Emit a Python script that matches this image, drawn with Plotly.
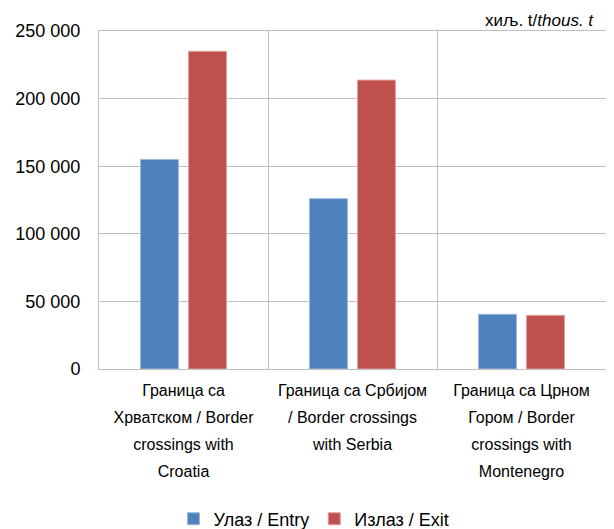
import plotly.graph_objects as go

category_lines = [
    ["Граница са", "Хрватском / Border", "crossings with", "Croatia"],
    ["Граница са Србијом", "/ Border crossings", "with Serbia"],
    ["Граница са Црном", "Гором / Border", "crossings with", "Montenegro"],
]
entry_values = [155000, 126000, 40500]
exit_values = [235000, 213700, 39700]
series_names = ["Улаз / Entry", "Излаз / Exit"]
y_ticks = [0, 50000, 100000, 150000, 200000, 250000]

FONT = "Liberation Sans"
cat_font_px = 16
categories = [
    "<br>".join(f"<span style='font-size:{cat_font_px}px'>{l}</span>" for l in lines)
    for lines in category_lines
]

fig = go.Figure()
fig.add_trace(go.Bar(
    x=categories, y=entry_values, name=series_names[0],
    marker=dict(color="#4F81BD", line=dict(color="#9DB9DE", width=1)),
))
fig.add_trace(go.Bar(
    x=categories, y=exit_values, name=series_names[1],
    marker=dict(color="#C0504D", line=dict(color="#E0A09E", width=1)),
))

# page body has an 8px margin: figure sized so it ends at the window edge
fig.update_layout(
    width=606, height=521,
    margin=dict(l=91, r=8, t=23, b=160, autoexpand=False),
    paper_bgcolor="white", plot_bgcolor="white",
    font=dict(family=FONT, color="#000000", size=18),
    separators=". ",
    barmode="group", bargap=0.432, bargroupgap=0.21,
    showlegend=True,
    legend=dict(
        orientation="h", x=0.424, xanchor="center", y=-0.444, yanchor="middle",
        font=dict(size=18, family=FONT), itemwidth=30, traceorder="normal",
    ),
    xaxis=dict(
        type="category", tickson="boundaries", showgrid=True, gridcolor="#BFBFBF",
        gridwidth=1, showline=True, linecolor="#BFBFBF", linewidth=1, mirror=True,
        ticks="", tickfont=dict(size=20.7, family=FONT), ticklabelstandoff=1,
        automargin=False,
    ),
    yaxis=dict(
        range=[0, 250000], tickvals=y_ticks, tickformat=",d",
        showgrid=True, gridcolor="#BFBFBF", gridwidth=1,
        showline=True, linecolor="#BFBFBF", linewidth=1, mirror=True,
        ticks="", tickfont=dict(size=18, family=FONT), ticklabelstandoff=14,
        automargin=False, zeroline=False,
    ),
    annotations=[dict(
        text="хиљ. t/<i>thous. t</i>", xref="paper", yref="paper",
        x=0.98, y=1.0325, xanchor="right", yanchor="middle", showarrow=False,
        font=dict(size=17, family=FONT, color="#000000"),
    )],
)

fig.write_html("out.html")
